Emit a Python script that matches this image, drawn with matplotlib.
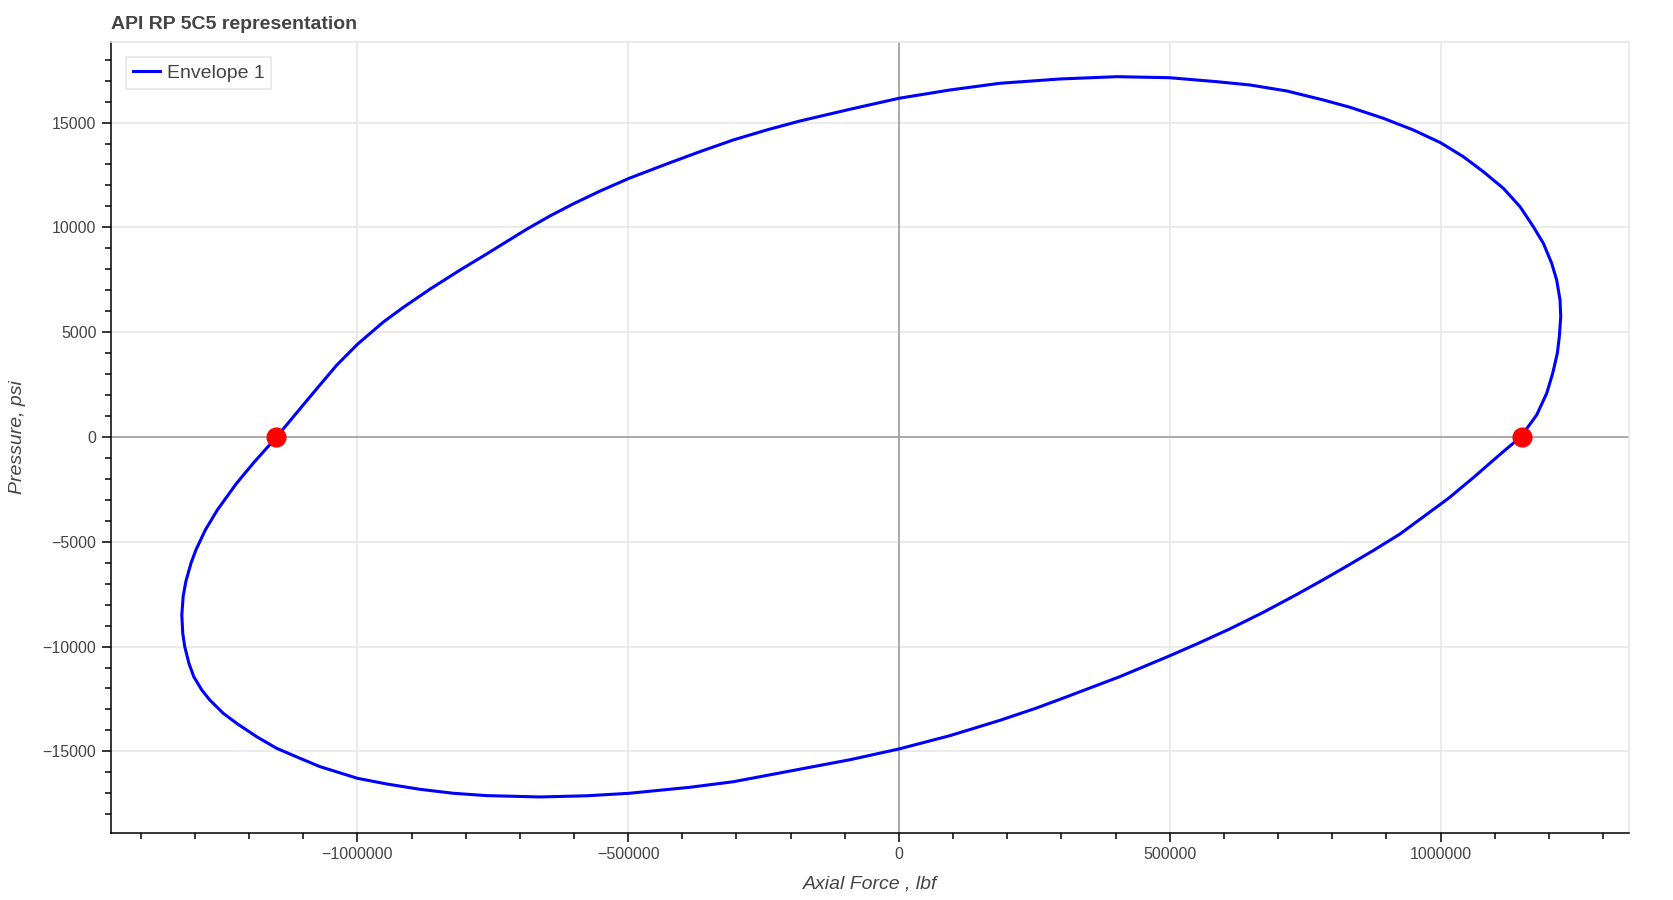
import matplotlib
matplotlib.use("Agg")
import matplotlib.pyplot as plt
from matplotlib.ticker import MultipleLocator, ScalarFormatter

plt.rcParams['font.family'] = ['Liberation Sans', 'DejaVu Sans']

# envelope (axial force lbf, pressure psi)
envelope_force = [
    1148100, 1177600, 1196100, 1207200, 1215700, 1219400, 1222000, 1220700,
    1214500, 1205300, 1189900, 1171400, 1146800, 1116000, 1079000, 1042100,
    1000000, 949800, 894400, 832900, 783600, 716000, 648200, 586700,
    498600, 402000, 297300, 186500, 94200, 0, -90500, -182800,
    -244300, -306000, -367500, -429000, -498000, -552200, -601500, -644500,
    -687500, -767700, -810700, -866100, -915400, -952300, -1000000, -1038400,
    -1069200, -1100000, -1149200, -1192400, -1223100, -1258600, -1280800, -1298200,
    -1307300, -1316800, -1321800, -1324200, -1322500, -1318800, -1311100, -1302200,
    -1287400, -1272600, -1247800, -1223100, -1186100, -1149200, -1106200, -1069200,
    -1000000, -946100, -884600, -823100, -761400, -663000, -576700, -498000,
    -386000, -306000, -182800, -90500, 0, 94200, 186500, 254300,
    309600, 408100, 499200, 555900, 611300, 672700, 734400, 783600,
    826700, 875900, 925200, 1014400, 1060600, 1109900, 1148100,
]
envelope_pressure = [
    0, 1050, 2084, 3039, 3992, 4785, 5741, 6536,
    7490, 8287, 9240, 10033, 10988, 11865, 12658, 13373,
    14041, 14647, 15205, 15730, 16078, 16508, 16794, 16951,
    17142, 17190, 17080, 16875, 16555, 16159, 15634, 15076,
    14647, 14170, 13612, 13025, 12343, 11730, 11120, 10544,
    9910, 8630, 7960, 7050, 6180, 5480, 4420, 3420,
    2480, 1530, 0, -1255, -2209, -3483, -4437, -5390,
    -6026, -6900, -7619, -8500, -9366, -10003, -10797, -11435,
    -12071, -12548, -13182, -13660, -14299, -14853, -15329, -15728,
    -16285, -16555, -16810, -16999, -17112, -17175, -17120, -17000,
    -16714, -16450, -15850, -15400, -14886, -14250, -13520, -12930,
    -12398, -11433, -10449, -9808, -9154, -8368, -7517, -6809,
    -6167, -5418, -4629, -2934, -1941, -832, 0,
]

# tension / compression limits at zero pressure
limit_force = [-1150000, 1150000]
limit_pressure = [0, 0]

fig = plt.figure(figsize=(16.74, 9.0), dpi=100)
ax = fig.add_axes([0.0663, 0.0748, 0.9068, 0.8789])

ax.plot(envelope_force, envelope_pressure, color='blue', lw=2.2, label='Envelope 1',
        zorder=3, solid_joinstyle='round')
ax.plot(limit_force, limit_pressure, 'o', color='red', markersize=13.5, zorder=4)

ax.axhline(0, color='#9a9a9a', lw=1.1, zorder=2)
ax.axvline(0, color='#9a9a9a', lw=1.1, zorder=2)

ax.set_xlim(-1455000, 1348000)
ax.set_ylim(-18880, 18860)

ax.xaxis.set_major_locator(MultipleLocator(500000))
ax.xaxis.set_minor_locator(MultipleLocator(100000))
ax.yaxis.set_major_locator(MultipleLocator(5000))
ax.yaxis.set_minor_locator(MultipleLocator(1000))
for axis in (ax.xaxis, ax.yaxis):
    fmt = ScalarFormatter(useOffset=False)
    fmt.set_scientific(False)
    axis.set_major_formatter(fmt)

ax.grid(True, which='major', color='#e5e5e5', lw=1.1, zorder=0)
ax.set_axisbelow(True)

for side in ('top', 'right'):
    ax.spines[side].set_color('#e5e5e5')
    ax.spines[side].set_linewidth(1.1)
for side in ('left', 'bottom'):
    ax.spines[side].set_color('black')
    ax.spines[side].set_linewidth(1.1)

ax.tick_params(which='major', direction='out', length=6.5, width=1.1, color='black',
               labelsize=11.5, labelcolor='#444444', pad=4)
ax.tick_params(which='minor', direction='out', length=4.3, width=1.1, color='black')

ax.set_xlabel('Axial Force , lbf', fontsize=14, style='italic', color='#444444')
ax.set_ylabel('Pressure, psi', fontsize=14, style='italic', color='#444444')
ax.xaxis.set_label_coords(0.5, -0.054)
ax.yaxis.set_label_coords(-0.056, 0.5)

ax.set_title('API RP 5C5 representation', loc='left', fontsize=14, fontweight='bold',
             color='#444444', pad=9)

leg = ax.legend(loc='upper left', bbox_to_anchor=(0.0099, 0.98), borderaxespad=0,
                fontsize=14, handlelength=1.4, handletextpad=0.35, borderpad=0.35,
                fancybox=False, framealpha=1, edgecolor='#e5e5e5')
for t in leg.get_texts():
    t.set_color('#444444')
leg.get_frame().set_linewidth(1.1)

fig.savefig('out.png', dpi=100)
